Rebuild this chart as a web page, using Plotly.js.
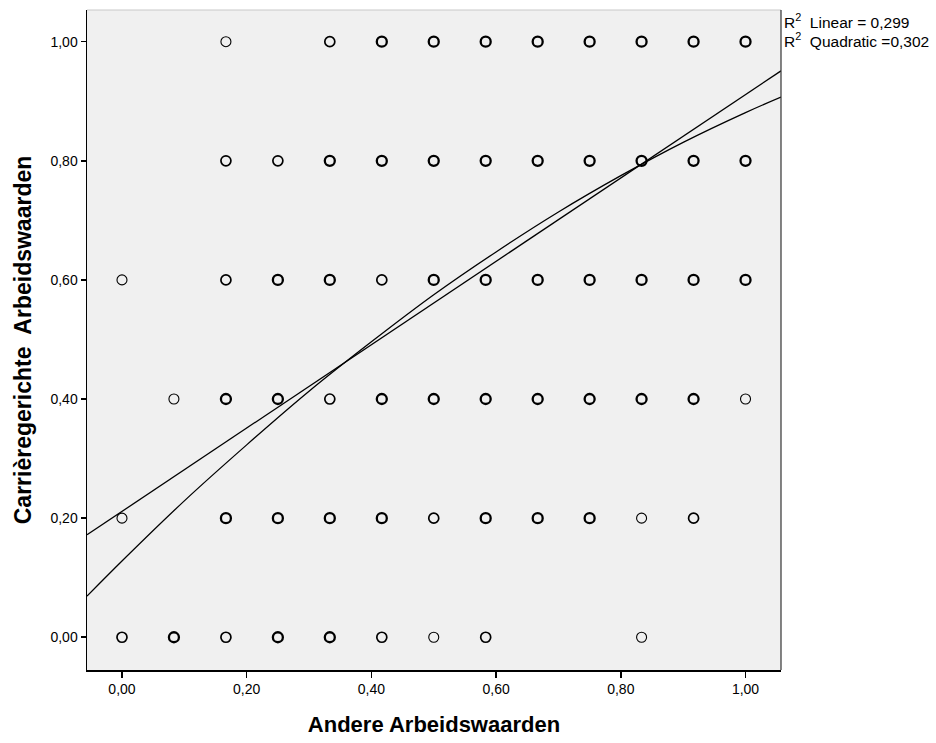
<!DOCTYPE html>
<html>
<head>
<meta charset="utf-8">
<script src="https://cdn.plot.ly/plotly-3.0.1.min.js"></script>
<style>html,body{margin:0;padding:0;background:#fff;}#chart{width:936px;height:743px;}</style>
</head>
<body>
<div id="chart"></div>
<script>
// Observed points: x (Andere Arbeidswaarden), y (Carrièregerichte Arbeidswaarden),
// overlap level read from the stroke darkness (1 = single, 2 = few, 3 = many)
var ptX = [
  0.1667,0.3333,0.4167,0.5,0.5833,0.6667,0.75,0.8333,0.9167,1.0,
  0.1667,0.25,0.3333,0.4167,0.5,0.5833,0.6667,0.75,0.8333,0.9167,1.0,
  0.0,0.1667,0.25,0.3333,0.4167,0.5,0.5833,0.6667,0.75,0.8333,0.9167,1.0,
  0.0833,0.1667,0.25,0.3333,0.4167,0.5,0.5833,0.6667,0.75,0.8333,0.9167,1.0,
  0.0,0.1667,0.25,0.3333,0.4167,0.5,0.5833,0.6667,0.75,0.8333,0.9167,
  0.0,0.0833,0.1667,0.25,0.3333,0.4167,0.5,0.5833,0.8333
];
var ptY = [
  1,1,1,1,1,1,1,1,1,1,
  0.8,0.8,0.8,0.8,0.8,0.8,0.8,0.8,0.8,0.8,0.8,
  0.6,0.6,0.6,0.6,0.6,0.6,0.6,0.6,0.6,0.6,0.6,0.6,
  0.4,0.4,0.4,0.4,0.4,0.4,0.4,0.4,0.4,0.4,0.4,0.4,
  0.2,0.2,0.2,0.2,0.2,0.2,0.2,0.2,0.2,0.2,0.2,
  0,0,0,0,0,0,0,0,0
];
var ptOverlap = [
  1,2,3,3,3,3,3,3,3,3,
  2,2,3,3,3,3,3,3,3,3,3,
  1,2,3,3,2,3,3,3,3,3,3,3,
  1,3,3,2,3,3,3,3,3,3,3,1,
  1,3,3,3,3,2,3,3,3,1,2,
  2,3,2,3,3,2,1,2,1
];

// Fit lines
var linX = [-0.0561, 1.0569];
var linY = [0.172, 0.951];
var quadX = [-0.0561, 0, 0.1, 0.2, 0.3, 0.4, 0.5, 0.6, 0.7, 0.8, 0.9, 1.0, 1.0569];
var quadY = [0.069, 0.128, 0.229, 0.323, 0.413, 0.496, 0.575, 0.647, 0.714, 0.775, 0.831, 0.881, 0.907];

var tickVals = [0, 0.2, 0.4, 0.6, 0.8, 1.0];
var fitLabels = ['R<sup>2</sup>  Linear = 0,299', 'R<sup>2</sup>  Quadratic =0,302'];

var widthFor = {1: 1.1, 2: 1.7, 3: 2.3};
var traces = [];
[1, 2, 3].forEach(function (lvl) {
  var xs = [], ys = [];
  for (var i = 0; i < ptX.length; i++) {
    if (ptOverlap[i] === lvl) { xs.push(ptX[i]); ys.push(ptY[i]); }
  }
  traces.push({
    type: 'scatter', mode: 'markers', x: xs, y: ys, showlegend: false,
    marker: {symbol: 'circle-open', size: 10, color: '#000',
             line: {width: widthFor[lvl], color: '#000'}},
    hoverinfo: 'skip'
  });
});
traces.push({type: 'scatter', mode: 'lines', x: linX, y: linY, showlegend: false,
  line: {color: '#000', width: 1.3}, hoverinfo: 'skip'});
traces.push({type: 'scatter', mode: 'lines', x: quadX, y: quadY, showlegend: false,
  line: {color: '#000', width: 1.3, shape: 'spline'}, hoverinfo: 'skip'});

var fontFam = 'Liberation Sans, Arial, sans-serif';
var layout = {
  width: 936, height: 743,
  margin: {l: 87, r: 155, t: 10, b: 73, pad: 0},
  paper_bgcolor: '#fff', plot_bgcolor: '#F0F0F0',
  separators: ',.',
  font: {family: fontFam, size: 14, color: '#000'},
  xaxis: {
    range: [-0.0561, 1.0569], tickvals: tickVals, tickformat: '.2f',
    showgrid: false, zeroline: false, showline: true, linecolor: '#000', linewidth: 1.5,
    ticks: 'outside', ticklen: 6, tickwidth: 1.5, tickcolor: '#000',
    tickfont: {size: 14, family: fontFam},
    title: {text: '<b>Andere Arbeidswaarden</b>', font: {size: 22, family: fontFam}, standoff: 20}
  },
  yaxis: {
    range: [-0.055, 1.0532], tickvals: tickVals, tickformat: '.2f',
    showgrid: false, zeroline: false, showline: true, linecolor: '#000', linewidth: 1.5,
    ticks: 'outside', ticklen: 5, tickwidth: 1.5, tickcolor: '#000',
    tickfont: {size: 14, family: fontFam},
    title: {text: '<b>Carrièregerichte  Arbeidswaarden</b>', font: {size: 23, family: fontFam}, standoff: 12}
  },
  shapes: [
    {type: 'line', xref: 'paper', yref: 'paper', x0: 0, x1: 1, y0: 1, y1: 1,
     line: {color: '#c8c8c8', width: 1}},
    {type: 'line', xref: 'paper', yref: 'paper', x0: 1, x1: 1, y0: 0, y1: 1,
     line: {color: '#333', width: 1.2}}
  ],
  annotations: [
    {xref: 'paper', yref: 'paper', x: 1, y: 1, xanchor: 'left', yanchor: 'top',
     xshift: 1, yshift: 1, text: fitLabels[0], showarrow: false, align: 'left',
     font: {size: 15.5, family: fontFam}},
    {xref: 'paper', yref: 'paper', x: 1, y: 1, xanchor: 'left', yanchor: 'top',
     xshift: 1, yshift: -18, text: fitLabels[1], showarrow: false, align: 'left',
     font: {size: 15.5, family: fontFam}}
  ]
};

Plotly.newPlot('chart', traces, layout, {displayModeBar: false, staticPlot: true});
</script>
</body>
</html>
